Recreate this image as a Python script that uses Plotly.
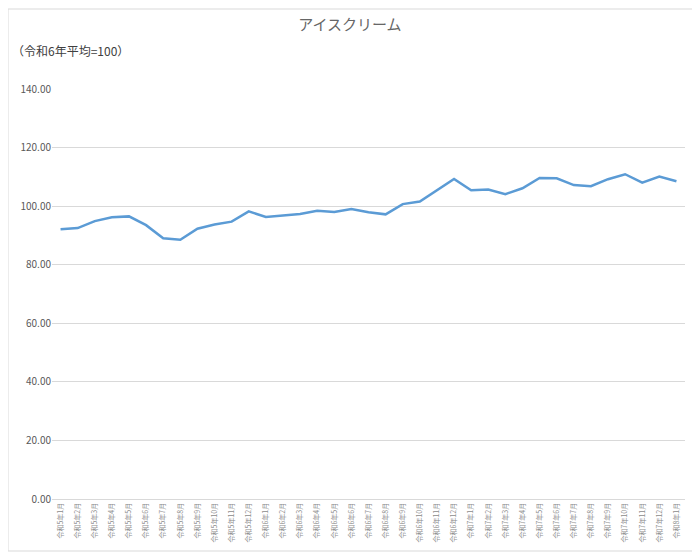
import plotly.graph_objects as go

# 月ラベル（令和5年1月〜令和8年1月）
months = []
for y, last in [(5, 12), (6, 12), (7, 12), (8, 1)]:
    for m in range(1, last + 1):
        months.append(f"令和{y}年{m}月")

# アイスクリーム指数（令和6年平均=100）
values = [92.1, 92.5, 94.9, 96.2, 96.5, 93.5, 89.0, 88.5, 92.3, 93.7,
          94.7, 98.2, 96.3, 96.7, 97.3, 98.4, 98.0, 99.0, 97.9, 97.2,
          100.7, 101.6, 105.3, 109.3, 105.4, 105.7, 104.1, 106.1, 109.6, 109.5,
          107.2, 106.8, 109.2, 110.9, 108.0, 110.1, 108.5]

y_ticks = [0, 20, 40, 60, 80, 100, 120, 140]

fig = go.Figure()
fig.add_trace(go.Scatter(x=months, y=values, mode="lines",
                         line=dict(color="#5B9BD5", width=2.5),
                         hoverinfo="x+y"))

# ページ余白(8px)のぶん小さめに
fig.update_layout(
    width=692, height=544,
    margin=dict(l=44, r=15, t=81, b=53),
    paper_bgcolor="white", plot_bgcolor="white",
    font=dict(family="Noto Sans CJK JP", color="#595959"),
    showlegend=False,
    title=dict(text="アイスクリーム", x=0.494, xanchor="center",
               y=0.97, yanchor="middle",
               font=dict(size=15, color="#666666")),
    annotations=[dict(text="（令和6年平均=100）", xref="paper", yref="paper",
                      x=-0.067, y=1.095, xanchor="left", yanchor="middle",
                      showarrow=False, font=dict(size=12, color="#404040"))],
)

fig.update_xaxes(type="category", tickangle=-90, tickfont=dict(size=7, color="#8c8c8c"),
                 showgrid=False, showline=True, linecolor="#d9d9d9",
                 ticks="", automargin=False, range=[-0.5, len(months) - 0.5])
fig.update_yaxes(range=[0, 140], tickvals=y_ticks, tickformat=".2f",
                 tickfont=dict(size=10, color="#595959"),
                 showgrid=True, gridcolor="#d9d9d9", zeroline=False,
                 ticks="", automargin=False)

# グラフエリアの枠線
fig.add_shape(type="rect", xref="paper", yref="paper",
              x0=-44 / 633, x1=1 + 14 / 633, y0=-52 / 410, y1=1 + 80 / 410,
              line=dict(color="#d9d9d9", width=1))

fig.write_html("out.html")
